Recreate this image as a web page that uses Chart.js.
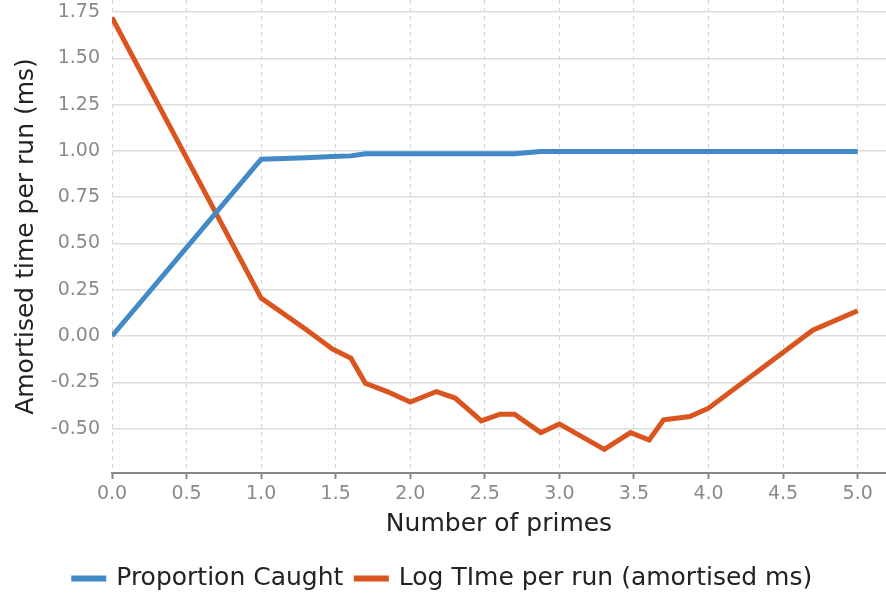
<!DOCTYPE html>
<html>
<head>
<meta charset="utf-8">
<script src="https://cdn.jsdelivr.net/npm/chart.js@4.4.1/dist/chart.umd.min.js"></script>
<style>
  html, body { margin: 0; padding: 0; background: #fff; }
  #wrap { width: 886px; height: 594px; }
</style>
</head>
<body>
<div id="wrap"><canvas id="myChart" width="886" height="594"></canvas></div>
<script>
// log10(number of primes)
const primesLog = [0, 1, 1.301, 1.477, 1.602, 1.699, 1.845, 2, 2.176, 2.301, 2.477, 2.602,
  2.699, 2.875, 3, 3.301, 3.477, 3.602, 3.699, 3.875, 4, 4.699, 5];

const proportionCaught = [0, 0.955, 0.963, 0.969, 0.973, 0.984, 0.984, 0.984, 0.984, 0.984,
  0.984, 0.984, 0.984, 0.996, 0.996, 0.996, 0.996, 0.996, 0.996, 0.996, 0.996, 0.996, 0.996];

const logTime = [1.72, 0.205, 0.035, -0.07, -0.12, -0.255, -0.3, -0.357, -0.3, -0.335, -0.458,
  -0.422, -0.422, -0.522, -0.475, -0.612, -0.522, -0.562, -0.453, -0.435, -0.39, 0.031, 0.136];

const seriesNames = ["Proportion Caught", "Log TIme per run (amortised ms)"];
const seriesColors = ["#4189c7", "#d9541e"];

const FONT = "'DejaVu Sans', sans-serif";

function toPoints(ys) {
  return ys.map((y, i) => ({ x: primesLog[i], y: y }));
}

const ctx = document.getElementById("myChart");

const myChart = new Chart(ctx, {
  type: "line",
  data: {
    datasets: [proportionCaught, logTime].map((ys, i) => ({
      label: seriesNames[i],
      data: toPoints(ys),
      borderColor: seriesColors[i],
      backgroundColor: seriesColors[i],
      borderWidth: 5,
      pointRadius: 0,
      tension: 0,
      fill: false
    }))
  },
  options: {
    responsive: false,
    animation: false,
    layout: { padding: { left: 0, right: 0, top: 0, bottom: -7 } },
    plugins: {
      tooltip: { enabled: false },
      legend: {
        position: "bottom",
        labels: {
          boxWidth: 30,
          boxHeight: 1,
          padding: 13,
          color: "#222",
          font: { family: FONT, size: 25 }
        }
      }
    },
    scales: {
      x: {
        type: "linear",
        min: 0,
        max: 5.19,
        border: { display: true, color: "#888", width: 2, dash: [4, 4] },
        grid: {
          color: "#d4d4d4",
          lineWidth: 1,
          tickLength: 6,
          tickColor: "#888",
          tickWidth: 2,
          tickBorderDash: []
        },
        ticks: {
          stepSize: 0.5,
          includeBounds: false,
          padding: 4,
          color: "#8a8a8a",
          font: { family: FONT, size: 19 },
          callback: (v) => v.toFixed(1)
        },
        title: {
          display: true,
          text: "Number of primes",
          color: "#222",
          font: { family: FONT, size: 25 },
          padding: { top: 0, bottom: 14 }
        },
        afterFit: (scale) => {
          scale.height = 80;
          scale.paddingLeft = 0;
          scale.paddingRight = 0;
        }
      },
      y: {
        min: -0.74,
        max: 1.815,
        border: { display: false, dash: [] },
        grid: {
          color: "#dcdcdc",
          lineWidth: 1.5,
          drawTicks: false
        },
        ticks: {
          stepSize: 0.25,
          includeBounds: false,
          padding: 12,
          color: "#8a8a8a",
          font: { family: FONT, size: 19 },
          callback: (v) => v.toFixed(2)
        },
        title: {
          display: true,
          text: "Amortised time per run (ms)",
          color: "#222",
          font: { family: FONT, size: 25 },
          padding: { top: 11, bottom: 0 }
        },
        afterFit: (scale) => {
          scale.width = 112;
          scale.paddingTop = 0;
          scale.paddingBottom = 0;
        }
      }
    }
  }
});
</script>
</body>
</html>
